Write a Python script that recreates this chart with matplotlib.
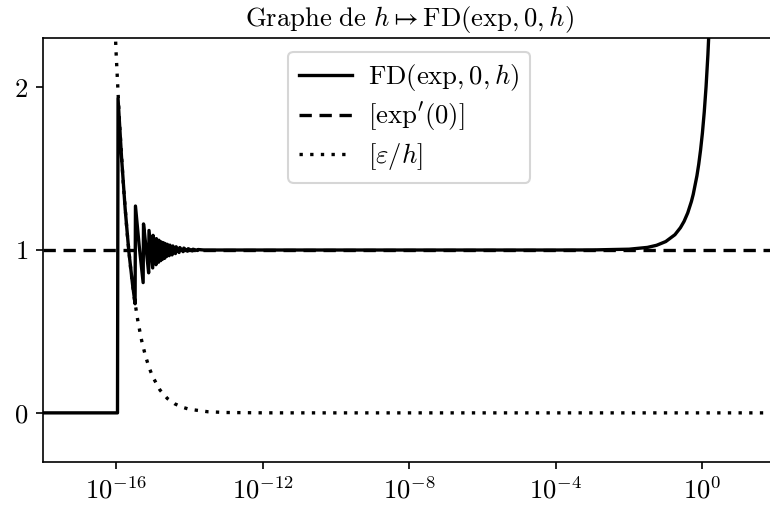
import numpy as np
import matplotlib
matplotlib.use("Agg")
import matplotlib.pyplot as plt


# exposants log10(h) et valeurs
FD_LOGH = [
    -18.0, -15.96, -15.945, -15.85, -15.75, -15.65, -15.55, -15.48,
    -15.47, -15.37, -15.26, -15.25, -15.18, -15.11, -15.10, -15.0,
    -14.99, -14.91, -14.90, -14.84, -14.83, -14.78, -14.77, -14.72,
    -14.71, -14.67, -14.66, -14.62, -14.60, -14.55, -14.53, -14.47,
    -14.45, -14.38, -14.36, -14.28, -14.26, -14.17, -14.15, -14.05,
    -14.03, -13.92, -13.90, -13.78, -13.76, -13.6, -4.0, -3.0,
    -2.0, -1.5, -1.25, -1.0, -0.75, -0.6, -0.5, -0.4,
    -0.3, -0.25, -0.15, -0.1, -0.05, 0.0, 0.05, 0.1,
    0.15, 0.2,
]
FD_VAL = [
    0.0, 0.0, 1.93, 1.57, 1.25, 0.99, 0.79, 0.67,
    1.27, 1.03, 0.80, 1.16, 1.01, 0.86, 1.12, 0.89,
    1.09, 0.91, 1.07, 0.925, 1.06, 0.935, 1.05, 0.945,
    1.045, 0.95, 1.04, 0.96, 1.035, 0.965, 1.03, 0.97,
    1.025, 0.978, 1.02, 0.985, 1.015, 0.99, 1.012, 0.993,
    1.008, 0.995, 1.005, 0.997, 1.003, 1.0, 1.0, 1.0005,
    1.005, 1.016, 1.029, 1.052, 1.094, 1.137, 1.176, 1.228,
    1.298, 1.342, 1.455, 1.527, 1.614, 1.718, 1.846, 2.003,
    2.199, 2.447,
]

DERIV_LOGH = [-18.0, 2.0]
DERIV_VAL = [1.0, 1.0]

EPS_LOGH = [
    -16.1, -16.0, -15.9, -15.8, -15.7, -15.6, -15.5, -15.4,
    -15.3, -15.2, -15.1, -15.0, -14.8, -14.6, -14.4, -14.2,
    -14.0, -13.5, -13.0, -12.0, -10.0, 2.0,
]
EPS_VAL = [
    2.795, 2.22, 1.763, 1.401, 1.113, 0.884, 0.702, 0.558,
    0.443, 0.352, 0.280, 0.222, 0.140, 0.0884, 0.0558, 0.0352,
    0.0222, 0.0070, 0.0022, 0.0002, 0.0, 0.0,
]

XTICKS = [1e-16, 1e-12, 1e-8, 1e-4, 1e0]
XTICK_LABELS = [r"$10^{-16}$", r"$10^{-12}$", r"$10^{-8}$", r"$10^{-4}$", r"$10^{0}$"]
YTICKS = [0, 1, 2]
YTICK_LABELS = [r"$0$", r"$1$", r"$2$"]

FS = 12.8

plt.rcParams["mathtext.fontset"] = "cm"
plt.rcParams["font.family"] = "serif"
plt.rcParams["font.serif"] = ["cmr10", "DejaVu Serif"]
plt.rcParams["axes.formatter.use_mathtext"] = True
plt.rcParams["font.size"] = FS


def main() -> None:
    fig = plt.figure(figsize=(770 / 150, 506 / 150), dpi=150)
    ax = fig.add_axes([0.0555, 0.0875, 0.9519, 0.8368])

    lw = 1.6
    ax.plot(np.power(10.0, FD_LOGH), FD_VAL, color="black", linewidth=lw,
            label=r"$\mathrm{FD}(\mathrm{exp}, 0, h)$")
    ax.plot(np.power(10.0, DERIV_LOGH), DERIV_VAL, color="black", linewidth=lw,
            linestyle=(0, (3.7, 2.3)), label=r"$[\mathrm{exp}'(0)]$")
    ax.plot(np.power(10.0, EPS_LOGH), EPS_VAL, color="black", linewidth=lw,
            linestyle=(0, (1, 2.2)), label=r"$[\varepsilon/h]$")

    ax.set_xscale("log")
    ax.set_xlim(1e-18, 1e2)
    ax.set_ylim(-0.3, 2.3)
    ax.set_xticks(XTICKS)
    ax.set_xticklabels(XTICK_LABELS)
    ax.xaxis.set_minor_locator(matplotlib.ticker.NullLocator())
    ax.set_yticks(YTICKS)
    ax.set_yticklabels(YTICK_LABELS)

    ax.set_title(r"$\mathrm{Graphe\ de\ }h \mapsto \mathrm{FD}(\mathrm{exp}, 0, h)$", fontsize=FS)
    ax.legend(loc="upper center", labelspacing=0.28, handletextpad=0.6)

    fig.savefig("out.png", dpi=150)
    plt.close(fig)


if __name__ == "__main__":
    main()
